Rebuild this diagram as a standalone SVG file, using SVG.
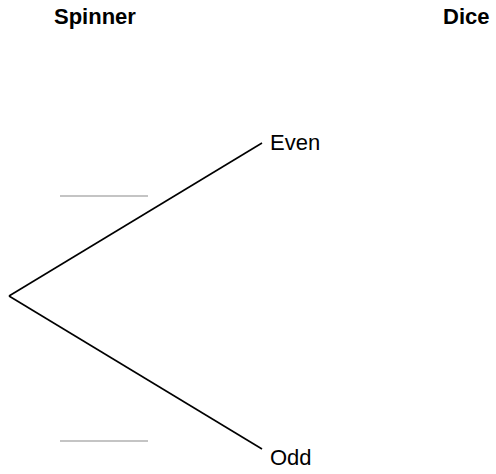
<svg xmlns="http://www.w3.org/2000/svg" width="496" height="474" viewBox="0 0 496 474">
<style>
.h{font-family:"Liberation Sans",Arial,sans-serif;font-size:22px;font-weight:bold;fill:#000}
.l{font-family:"Liberation Sans",Arial,sans-serif;font-size:22px;fill:#000}
.br{stroke:#000;stroke-width:1.6;fill:none}
.blank{stroke:#b0b0b0;stroke-width:1.6}
</style>
<rect width="496" height="474" fill="#fff"/>
<g id="headers">
<text class="h" x="54" y="24">Spinner</text>
<text class="h" x="443" y="24">Dice</text>
</g>
<g id="connectors">
<line class="br" x1="9" y1="296" x2="262" y2="143"/>
<line class="br" x1="9" y1="296" x2="262" y2="449"/>
</g>
<g id="node-root"></g>
<g id="node-even">
<text class="l" x="270" y="150">Even</text>
</g>
<g id="node-odd">
<text class="l" x="270" y="465">Odd</text>
</g>
<g id="blanks">
<line class="blank" x1="60" y1="196" x2="148" y2="196"/>
<line class="blank" x1="60" y1="441" x2="148" y2="441"/>
</g>
</svg>
